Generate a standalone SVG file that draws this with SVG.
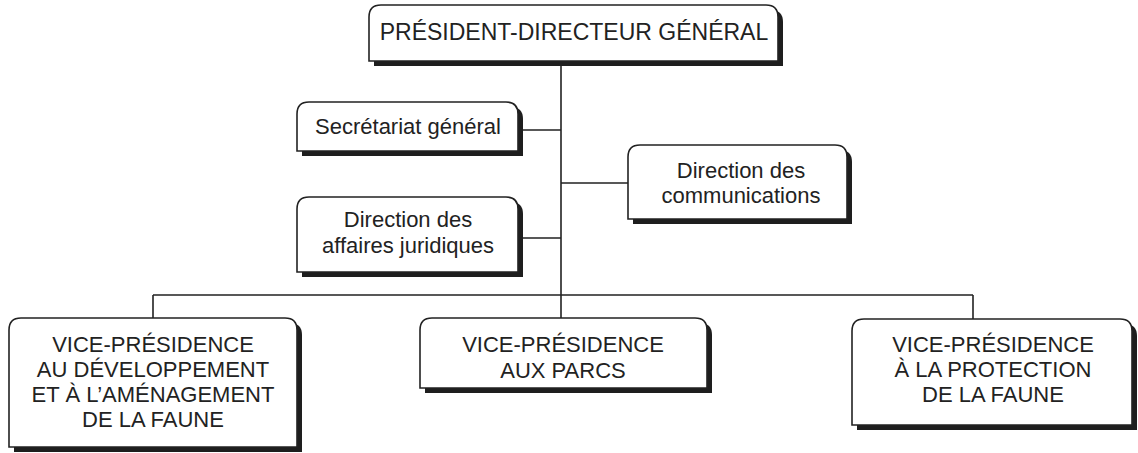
<svg xmlns="http://www.w3.org/2000/svg" width="1138" height="453" viewBox="0 0 1138 453">
<defs>
<style>
.box{fill:#fff;stroke:#222;stroke-width:1.6}
.sh{fill:#1e1e1e}
.ln{fill:none;stroke:#222;stroke-width:1.6}
text{font-family:"Liberation Sans",Arial,sans-serif;font-size:22px;fill:#222;text-anchor:middle}
.big{font-size:23px}
</style>
</defs>
<rect width="1138" height="453" fill="#fff"/>
<g id="connectors">
<path class="ln" d="M561,66 V295 M518,130 H561 M561,183 H628 M518,238 H561 M153,295 H973 M153,295 V318 M561,295 V318 M973,295 V319"/>
</g>
<g id="pdg">
<path class="sh" transform="translate(5,5)" d="M369,61 L369,17 Q369,5 381,5 L766,5 Q778,5 778,17 L778,61 Z"/>
<path class="box" d="M369,61 L369,17 Q369,5 381,5 L766,5 Q778,5 778,17 L778,61 Z"/>
<text class="big" x="574" y="40">PRÉSIDENT-DIRECTEUR GÉNÉRAL</text>
</g>
<g id="secretariat">
<path class="sh" transform="translate(5,5)" d="M297,151 L297,114 Q297,102 309,102 L506,102 Q518,102 518,114 L518,151 Z"/>
<path class="box" d="M297,151 L297,114 Q297,102 309,102 L506,102 Q518,102 518,114 L518,151 Z"/>
<text x="408" y="134">Secrétariat général</text>
</g>
<g id="communications">
<path class="sh" transform="translate(5,5)" d="M628,219 L628,157 Q628,145 640,145 L835,145 Q847,145 847,157 L847,219 Z"/>
<path class="box" d="M628,219 L628,157 Q628,145 640,145 L835,145 Q847,145 847,157 L847,219 Z"/>
<text x="741" y="178">Direction des</text>
<text x="741" y="203">communications</text>
</g>
<g id="juridiques">
<path class="sh" transform="translate(5,5)" d="M297,272 L297,209 Q297,197 309,197 L506,197 Q518,197 518,209 L518,272 Z"/>
<path class="box" d="M297,272 L297,209 Q297,197 309,197 L506,197 Q518,197 518,209 L518,272 Z"/>
<text x="408" y="227">Direction des</text>
<text x="408" y="253">affaires juridiques</text>
</g>
<g id="vp-developpement">
<path class="sh" transform="translate(5,5)" d="M9,447 L9,330 Q9,318 21,318 L285,318 Q297,318 297,330 L297,447 Z"/>
<path class="box" d="M9,447 L9,330 Q9,318 21,318 L285,318 Q297,318 297,330 L297,447 Z"/>
<text x="153" y="352">VICE-PRÉSIDENCE</text>
<text x="153" y="377">AU DÉVELOPPEMENT</text>
<text x="153" y="402">ET À L’AMÉNAGEMENT</text>
<text x="153" y="427">DE LA FAUNE</text>
</g>
<g id="vp-parcs">
<path class="sh" transform="translate(5,5)" d="M420,388 L420,330 Q420,318 432,318 L695,318 Q707,318 707,330 L707,388 Z"/>
<path class="box" d="M420,388 L420,330 Q420,318 432,318 L695,318 Q707,318 707,330 L707,388 Z"/>
<text x="563" y="352">VICE-PRÉSIDENCE</text>
<text x="563" y="378">AUX PARCS</text>
</g>
<g id="vp-protection">
<path class="sh" transform="translate(5,5)" d="M852,425 L852,331 Q852,319 864,319 L1120,319 Q1132,319 1132,331 L1132,425 Z"/>
<path class="box" d="M852,425 L852,331 Q852,319 864,319 L1120,319 Q1132,319 1132,331 L1132,425 Z"/>
<text x="993" y="352">VICE-PRÉSIDENCE</text>
<text x="993" y="377">À LA PROTECTION</text>
<text x="993" y="402">DE LA FAUNE</text>
</g>
</svg>
